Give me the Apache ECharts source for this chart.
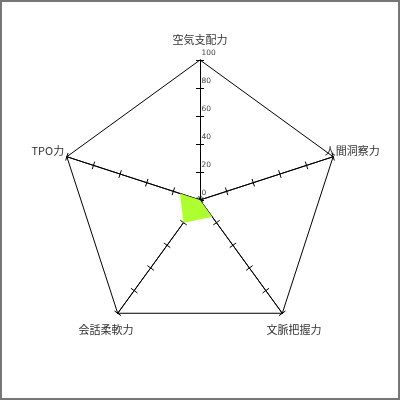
<!DOCTYPE html>
<html><head><meta charset="utf-8">
<script src="https://cdn.jsdelivr.net/npm/echarts@6/dist/echarts.min.js"></script>
<style>
html,body{margin:0;padding:0;background:#fff;}
#c{width:400px;height:400px;box-sizing:border-box;border:2px solid #777;}
</style></head><body>
<div id="c"></div>
<script>
// counter-clockwise from top (ECharts radar order)
const categories = ['空気支配力','TPO力','会話柔軟力','文脈把握力','人間洞察力'];
const values = [0, 15, 20, 15, 0];
const maxValue = 100;
const tickLabels = ['0','20','40','60','80','100'];

const chart = echarts.init(document.getElementById('c'), null, {renderer:'canvas'});
const font = '"Noto Sans CJK JP", "Noto Sans", sans-serif';
function makeRadar(tickLen, main){
  return {
    center:[198,198], radius:140, startAngle:90, splitNumber:5, shape:'polygon',
    indicator: categories.map((c,i)=>({
      name:c, max:maxValue, min:0,
      axisLabel:{show: main && i===0}
    })),
    axisName:{show:main, color:'#333', fontSize:11, fontFamily:font, align:'center', verticalAlign:'middle'},
    nameGap:20,
    axisLine:{lineStyle:{color:'#000', width:1}},
    splitLine:{show:main, lineStyle:{width:1, color:['rgba(0,0,0,0)','rgba(0,0,0,0)','rgba(0,0,0,0)','rgba(0,0,0,0)','rgba(0,0,0,0)','#000']}},
    splitArea:{show:false},
    axisTick:{show:true, length:tickLen, lineStyle:{color:'#000'}},
    axisLabel:{show:false, fontSize:7.5, color:'#444', fontFamily:'"DejaVu Sans", sans-serif', margin:-1.5, align:'left', verticalAlign:'bottom',
      padding:[0,0,3,0],
      formatter:(v)=>tickLabels[Math.round(v/20)]}
  };
}
chart.setOption({
  animation:false,
  radar:[makeRadar(4, true), makeRadar(-4, false)],
  series:[{
    type:'radar', radarIndex:0, symbol:'none',
    lineStyle:{width:0},
    areaStyle:{color:'#adff2f', opacity:1},
    data:[{value:values}]
  }]
});
</script>
</body></html>
